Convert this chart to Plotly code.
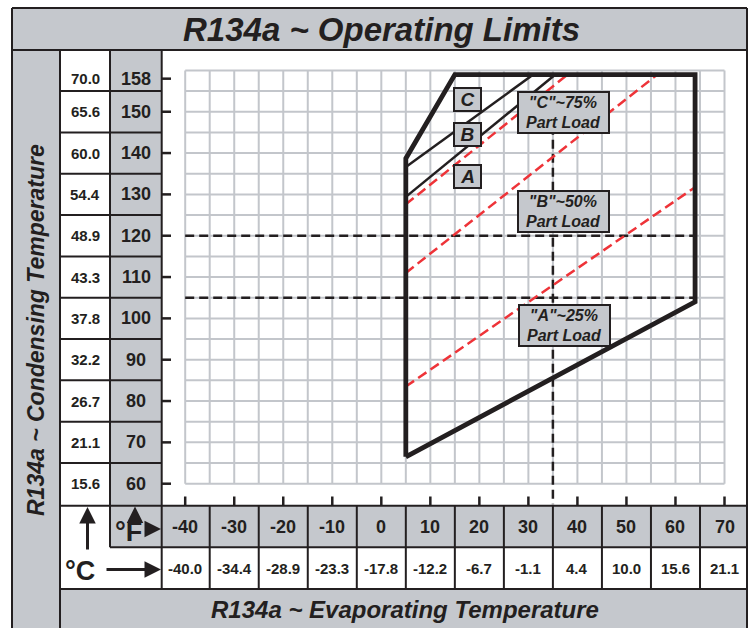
import plotly.graph_objects as go

# ---------------- data ----------------
x_ticks_F = [-40, -30, -20, -10, 0, 10, 20, 30, 40, 50, 60, 70]
x_ticks_C = ["-40.0", "-34.4", "-28.9", "-23.3", "-17.8", "-12.2", "-6.7", "-1.1", "4.4", "10.0", "15.6", "21.1"]
y_ticks_F = [60, 70, 80, 90, 100, 110, 120, 130, 140, 150, 158]
y_ticks_C = ["15.6", "21.1", "26.7", "32.2", "37.8", "43.3", "48.9", "54.4", "60.0", "65.6", "70.0"]

# operating envelope (evap °F, cond °F)
env_x = [5, 5, 15, 64, 64, 5]
env_y = [66.5, 138.7, 159, 159, 104, 66.5]

# zone boundaries C/B and B/A
zone_cb_x = [5, 31]
zone_cb_y = [136.6, 159]
zone_ba_x = [5, 35.5]
zone_ba_y = [129.4, 159]

# part-load lines (red dashed)
pl75_x = [5, 38]
pl75_y = [127.6, 159]
pl50_x = [5, 56.3]
pl50_y = [111, 159]
pl25_x = [5, 63.7]
pl25_y = [83.5, 131.5]

# reference dashed lines
ref_h_levels = [120, 105]
ref_h_x = [-40, 64]
ref_v_x = 35
ref_v_y = [150, 55]

# labels
pl_labels = ['"C"~75%<br>Part Load', '"B"~50%<br>Part Load', '"A"~25%<br>Part Load']
pl_label_x = [37.2, 37.2, 37.3]
pl_label_y = [149.9, 125.8, 98.2]
zone_labels = ["C", "B", "A"]
zone_label_x = [17.5, 17.5, 17.5]
zone_label_y = [152.9, 144.5, 134.3]

# ---------------- layout helpers ----------------
W, H = 749, 628
GRAY = "#c5c8cd"
INK = "#231f20"
GRID = "#c3c6cb"
FONT = "Liberation Sans, Arial, sans-serif"

def px(x):
    return x / W

def py(y):
    return 1 - y / H

# axis calibration: -40°F at 185.2px, 70°F at 724.5px; 60°F at 483.7px, 4.133 px/°F
kx = (724.5 - 185.2) / 110.0
x_range = [-40 - 185.2 / kx, -40 + (W - 185.2) / kx]
ky = 4.133
y_range = [60 - (H - 483.7) / ky, 60 + 483.7 / ky]

fig = go.Figure()
shapes = []
annotations = []

def line_paper(x0, y0, x1, y1, w=2, color=INK):
    shapes.append(dict(type="line", xref="paper", yref="paper",
                       x0=px(x0), y0=py(y0), x1=px(x1), y1=py(y1),
                       line=dict(color=color, width=w), layer="below"))

def rect_paper(x0, y0, x1, y1, fill):
    shapes.append(dict(type="rect", xref="paper", yref="paper",
                       x0=px(x0), y0=py(y0), x1=px(x1), y1=py(y1),
                       fillcolor=fill, line=dict(width=0), layer="below"))

def text(x, y, t, size, xref="paper", yref="paper", **kw):
    annotations.append(dict(xref=xref, yref=yref, x=x, y=y, text=t, showarrow=False,
                            xanchor="center", yanchor="middle",
                            font=dict(family=FONT, size=size, color=INK), **kw))

# ---------------- table backgrounds ----------------
L_OUT, L_STRIP, L_C, L_F, R_OUT = 12, 60, 110, 161.7, 747
T_OUT, T_TITLE = 8, 50
B_FROW, B_CROW, B_END = 505.7, 547.3, 589

rect_paper(L_OUT, T_OUT, R_OUT, T_TITLE, GRAY)           # title band
rect_paper(L_OUT, T_TITLE, L_STRIP, H + 5, GRAY)        # left strip
rect_paper(L_STRIP, B_END, R_OUT, H + 5, GRAY)          # bottom band
rect_paper(L_C, T_TITLE, L_F, B_FROW, GRAY)             # °F column
rect_paper(L_C, B_FROW, R_OUT, B_CROW, GRAY)            # °F row

# frame lines
line_paper(L_OUT, T_OUT, R_OUT, T_OUT)
line_paper(L_OUT, T_OUT, L_OUT, H + 5)
line_paper(R_OUT, T_OUT, R_OUT, H + 5)
line_paper(L_OUT, T_TITLE, R_OUT, T_TITLE)
line_paper(L_STRIP, T_TITLE, L_STRIP, H + 5)
line_paper(L_C, T_TITLE, L_C, B_CROW)
line_paper(L_F, T_TITLE, L_F, B_END)
line_paper(L_STRIP, B_FROW, R_OUT, B_FROW)
line_paper(L_C, B_CROW, R_OUT, B_CROW)
line_paper(L_STRIP, B_END, R_OUT, B_END)

# left table row separators (data y)
row_lines = [y + 5 for y in y_ticks_F[:-1]]
for yv in row_lines:
    shapes.append(dict(type="line", xref="paper", yref="y",
                       x0=px(L_STRIP), x1=px(L_F), y0=yv, y1=yv,
                       line=dict(color=INK, width=2), layer="below"))
# bottom table column separators (data x)
col_lines = [x + 5 for x in x_ticks_F[:-1]]
for xv in col_lines:
    shapes.append(dict(type="line", xref="x", yref="paper",
                       x0=xv, x1=xv, y0=py(B_FROW), y1=py(B_END),
                       line=dict(color=INK, width=2), layer="below"))

# grid (every 5 °F)
for gx in range(-40, 71, 5):
    shapes.append(dict(type="line", xref="x", yref="y", x0=gx, x1=gx, y0=60, y1=160,
                       line=dict(color=GRID, width=2), layer="below"))
for gy in range(60, 161, 5):
    shapes.append(dict(type="line", xref="x", yref="y", x0=-40, x1=70, y0=gy, y1=gy,
                       line=dict(color=GRID, width=2), layer="below"))

# tick marks
for yv in y_ticks_F:
    shapes.append(dict(type="line", xref="paper", yref="y", x0=px(L_F), x1=px(171), y0=yv, y1=yv,
                       line=dict(color=INK, width=2.5), layer="below"))
for xv in x_ticks_F:
    shapes.append(dict(type="line", xref="x", yref="paper", x0=xv, x1=xv, y0=py(B_FROW), y1=py(496.5),
                       line=dict(color=INK, width=2.5), layer="below"))

# ---------------- traces ----------------
for lvl in ref_h_levels:
    fig.add_trace(go.Scatter(x=ref_h_x, y=[lvl, lvl], mode="lines",
                             line=dict(color=INK, width=2.5, dash="9px,5px"), hoverinfo="skip"))
fig.add_trace(go.Scatter(x=[ref_v_x, ref_v_x], y=ref_v_y, mode="lines",
                         line=dict(color=INK, width=2.5, dash="9px,5px"), hoverinfo="skip"))

for xs, ys in [(pl75_x, pl75_y), (pl50_x, pl50_y), (pl25_x, pl25_y)]:
    fig.add_trace(go.Scatter(x=xs, y=ys, mode="lines",
                             line=dict(color="#ee3338", width=2.5, dash="10px,5px"), hoverinfo="skip"))

for xs, ys in [(zone_cb_x, zone_cb_y), (zone_ba_x, zone_ba_y)]:
    fig.add_trace(go.Scatter(x=xs, y=ys, mode="lines",
                             line=dict(color=INK, width=2.5), hoverinfo="skip"))

fig.add_trace(go.Scatter(x=env_x, y=env_y, mode="lines",
                         line=dict(color=INK, width=4.8), hoverinfo="skip"))

# ---------------- text ----------------
def bi(t):
    return "<b><i>" + t + "</i></b>"

text(px(381), py(30), bi("R134a ~ Operating Limits"), 33)
text(px(405), py(609), bi("R134a ~ Evaporating Temperature"), 24)
text(px(36), py(330), bi("R134a ~ Condensing Temperature"), 23, textangle=-90)

for yv, lc in zip(y_ticks_F, y_ticks_C):
    text(px(85), yv, "<b>%s</b>" % lc, 15, yref="y")
    text(px(136), yv, "<b>%d</b>" % yv, 18, yref="y")
for xv, lc in zip(x_ticks_F, x_ticks_C):
    text(xv, py(527), "<b>%d</b>" % xv, 18, xref="x")
    text(xv, py(568.5), "<b>%s</b>" % lc, 15, xref="x")

text(px(128), py(532), "<b>°F</b>", 27)
text(px(80), py(571), "<b>°C</b>", 27)

def arrow(hx, hy, tx, ty):
    annotations.append(dict(xref="paper", yref="paper", x=px(hx), y=py(hy),
                            axref="pixel", ayref="pixel", ax=tx - hx, ay=ty - hy,
                            text="", showarrow=True, arrowhead=2, arrowsize=1.1,
                            arrowwidth=3, arrowcolor=INK))

arrow(135, 506.5, 135, 518)
arrow(161, 529, 146, 529)
arrow(87.5, 507, 87.5, 551)
arrow(161, 569.5, 105, 569.5)

for t, xv, yv in zip(pl_labels, pl_label_x, pl_label_y):
    text(xv, yv, bi(t), 16, xref="x", yref="y",
         align="center", width=89, height=39, bgcolor=GRAY,
         bordercolor=INK, borderwidth=2, borderpad=0)
for t, xv, yv in zip(zone_labels, zone_label_x, zone_label_y):
    text(xv, yv, bi(t), 19, xref="x", yref="y",
         width=25, height=21, bgcolor=GRAY,
         bordercolor=INK, borderwidth=2, borderpad=0)

fig.update_layout(
    width=W, height=H, margin=dict(l=0, r=0, t=0, b=0),
    paper_bgcolor="white", plot_bgcolor="white",
    showlegend=False, shapes=shapes, annotations=annotations,
    xaxis=dict(range=x_range, visible=False, domain=[0, 1], fixedrange=True),
    yaxis=dict(range=y_range, visible=False, domain=[0, 1], fixedrange=True),
)

fig.write_html("out.html", config={"displayModeBar": False},
               post_script="document.body.style.margin='0';document.body.style.overflow='hidden';")
